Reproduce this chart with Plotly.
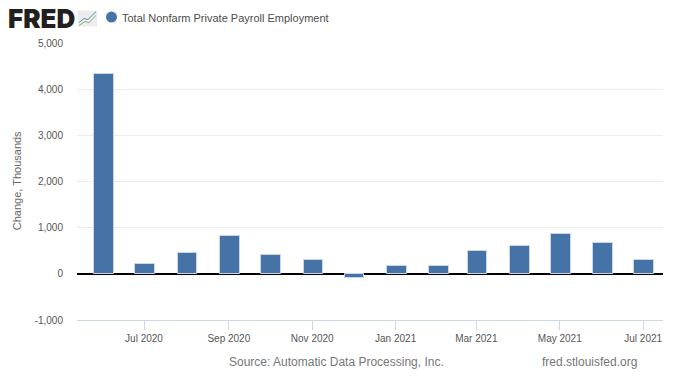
import plotly.graph_objects as go

dates = ["2020-06-01","2020-07-01","2020-08-01","2020-09-01","2020-10-01","2020-11-01","2020-12-01",
         "2021-01-01","2021-02-01","2021-03-01","2021-04-01","2021-05-01","2021-06-01","2021-07-01"]
values = [4330, 216, 448, 815, 404, 296, -100, 180, 160, 490, 600, 860, 660, 310]
series_name = "Total Nonfarm Private Payroll Employment"
y_ticks = [-1000, 0, 1000, 2000, 3000, 4000, 5000]
y_labels = ["-1,000", "0", "1,000", "2,000", "3,000", "4,000", "5,000"]
x_ticks = ["2020-07-01","2020-09-01","2020-11-01","2021-01-01","2021-03-01","2021-05-01","2021-07-01"]
x_labels = ["Jul 2020","Sep 2020","Nov 2020","Jan 2021","Mar 2021","May 2021","Jul 2021"]

W, H = 680, 383
L, R, T, B = 77, 663, 42.5, 320
font = "Liberation Sans, Arial, sans-serif"

def px(x): return (x - L) / (R - L)
def py(y): return (B - y) / (B - T)

fig = go.Figure(go.Bar(
    x=dates, y=values, name=series_name, width=1.24e9, offset=-5.5e8,
    marker=dict(color="#4572a7", line=dict(color="#c9d6e8", width=1)),
    showlegend=False, hoverinfo="x+y",
))

shapes = [
    dict(type="circle", xref="paper", yref="paper", x0=px(106), x1=px(117), y0=py(22), y1=py(11),
         fillcolor="#4572a7", line_width=0),
    dict(type="rect", xref="paper", yref="paper", x0=px(78), x1=px(97), y0=py(26), y1=py(10),
         fillcolor="#ececec", line_width=0),
    dict(type="path", xref="paper", yref="paper",
         path=f"M {px(79)} {py(22)} L {px(84)} {py(18)} L {px(88)} {py(19)} L {px(96)} {py(11)}",
         line=dict(color="#5f8fb5", width=1)),
    dict(type="path", xref="paper", yref="paper",
         path=f"M {px(79)} {py(25)} L {px(85)} {py(21)} L {px(89)} {py(22)} L {px(96)} {py(15)}",
         line=dict(color="#8db27a", width=1)),
]

annotations = [
    dict(text="FRED", x=px(6), y=py(17.5), xref="paper", yref="paper", xanchor="left", yanchor="middle",
         showarrow=False, font=dict(family="Inter, Liberation Sans, sans-serif", size=26, weight=900, color="#231f20")),
    dict(text=series_name, x=px(120), y=py(17), xref="paper", yref="paper", xanchor="left", yanchor="middle",
         showarrow=False, font=dict(family=font, size=11, color="#4d4d4d")),
    dict(text="Source: Automatic Data Processing, Inc.", x=px(227), y=py(362.5), xref="paper", yref="paper",
         xanchor="left", yanchor="middle", showarrow=False, font=dict(family=font, size=12, color="#777777")),
    dict(text="fred.stlouisfed.org", x=px(540), y=py(362.5), xref="paper", yref="paper",
         xanchor="left", yanchor="middle", showarrow=False, font=dict(family=font, size=12, color="#777777")),
    dict(text="Change, Thousands", x=px(17), y=py(181), xref="paper", yref="paper", xanchor="center", yanchor="middle",
         textangle=-90, showarrow=False, font=dict(family=font, size=11, color="#666666")),
]

fig.update_layout(
    width=W, height=H, autosize=False,
    margin=dict(l=L, r=W - R, t=T, b=H - B, pad=0),
    paper_bgcolor="white", plot_bgcolor="white",
    shapes=shapes, annotations=annotations, bargap=0,
    font=dict(family=font),
    xaxis=dict(
        type="date", range=["2020-05-13", "2021-07-15 12:00"],
        tickmode="array", tickvals=x_ticks, ticktext=x_labels,
        showgrid=False, zeroline=False, showline=True, linecolor="#ccd6eb", linewidth=1,
        ticks="outside", ticklen=9, tickcolor="#ccd6eb", tickwidth=1,
        tickfont=dict(size=10, color="#555555", family=font),
    ),
    yaxis=dict(
        range=[-1000, 5000], tickmode="array", tickvals=y_ticks, ticktext=y_labels,
        showgrid=True, gridcolor="#ececec", gridwidth=1,
        zeroline=True, zerolinecolor="#000000", zerolinewidth=2, showline=False,
        ticks="", ticklabelstandoff=13, tickfont=dict(size=10, color="#555555", family=font),
    ),
)
fig.write_html("out.html", config={"displayModeBar": False},
               post_script="document.body.style.margin='0';")
